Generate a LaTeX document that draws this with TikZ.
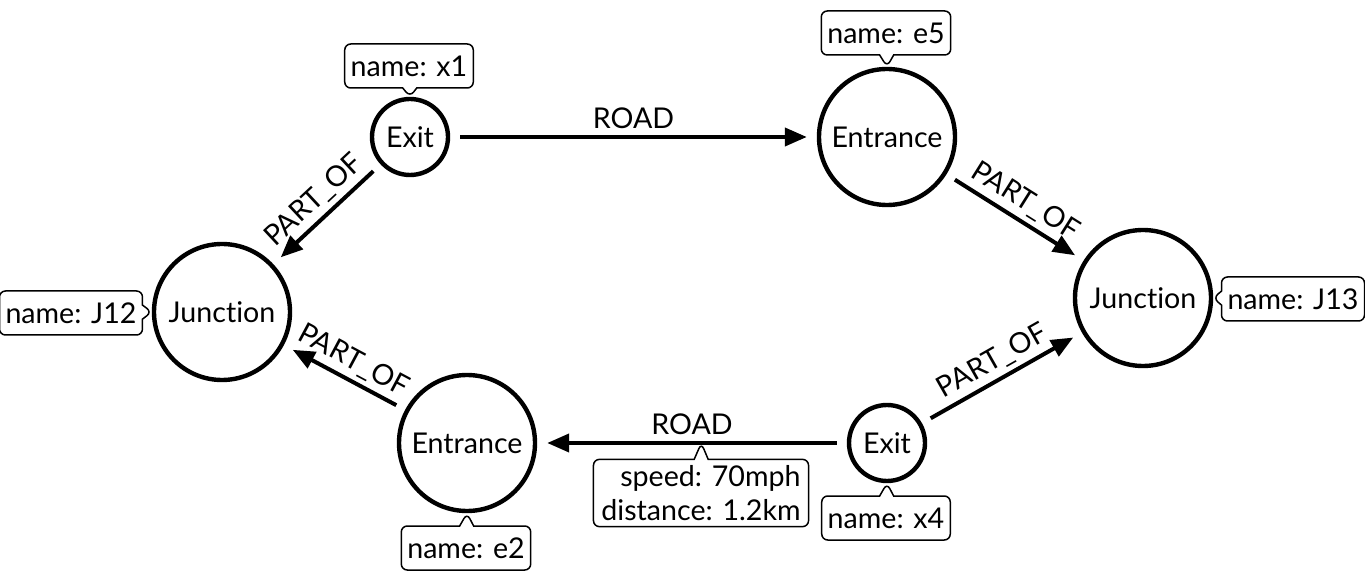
\documentclass[tikz,border=0pt]{standalone}
\usepackage{fontspec}
\setmainfont[Ligatures=NoCommon]{Lato}
\usetikzlibrary{arrows.meta, shapes.callouts, positioning}

\begin{document}
\begin{tikzpicture}[x=0.5pt,y=-0.5pt,>={Triangle[length=11pt,width=9pt]},
    font=\fontsize{14.3}{17}\selectfont,
    smallnode/.style={circle, draw, line width=2.2pt, minimum size=38pt, inner sep=0pt},
    bignode/.style={circle, draw, line width=2.2pt, minimum size=68pt, inner sep=0pt},
    rel/.style={->, line width=2pt, shorten <=5pt, shorten >=5pt},
    prop/.style={rectangle callout, draw, line width=0.75pt, rounded corners=3pt, fill=white,
      inner xsep=3pt, inner ysep=2pt, minimum height=22pt, callout pointer width=7pt}]
  \useasboundingbox (0,0) rectangle (1365,582);

  \node (x1) [smallnode] at (410,137) {Exit};
  \node (e5) [bignode] at (887,137) {Entrance};
  \node (j12) [bignode] at (222,312) {Junction};
  \node (j13) [bignode] at (1143,298) {Junction};
  \node (e2) [bignode] at (467,443) {Entrance};
  \node (x4) [smallnode] at (887,443) {Exit};

  \draw[rel] (x1) -- node[above] {ROAD} (e5);
  \draw[rel] (x1) -- node[above=-1pt, sloped] {PART\_OF} (j12);
  \draw[rel] (e5) -- node[above=-1pt, sloped] {PART\_OF} (j13);
  \draw[rel] (x4) -- node[above=-1pt, sloped] {PART\_OF} (j13);
  \draw[rel] (e2) -- node[above=-1pt, sloped] {PART\_OF} (j12);
  \draw[rel] (x4) -- node[above] {ROAD} coordinate[pos=0.47] (rd) (e2);

  % properties
  \node (px1) [prop, callout absolute pointer={(x1.north)}] at (409,66) {name: x1};
  \node (pe5) [prop, callout absolute pointer={(e5.north)}] at (886,33) {name: e5};
  \node (pj12) [prop, callout absolute pointer={(j12.west)}] at (71,313) {name: J12};
  \node (pj13) [prop, callout absolute pointer={(j13.east)}] at (1293,299) {name: J13};
  \node (pe2) [prop, callout absolute pointer={(e2.south)}] at (466,548) {name: e2};
  \node (px4) [prop, callout absolute pointer={(x4.south)}] at (886,518) {name: x4};
  \node (prd) [prop, align=right, inner xsep=4pt, inner ysep=3pt, callout absolute pointer={(rd)}]
    at (701,493) {speed: 70mph\\distance: 1.2km};
\end{tikzpicture}
\end{document}
